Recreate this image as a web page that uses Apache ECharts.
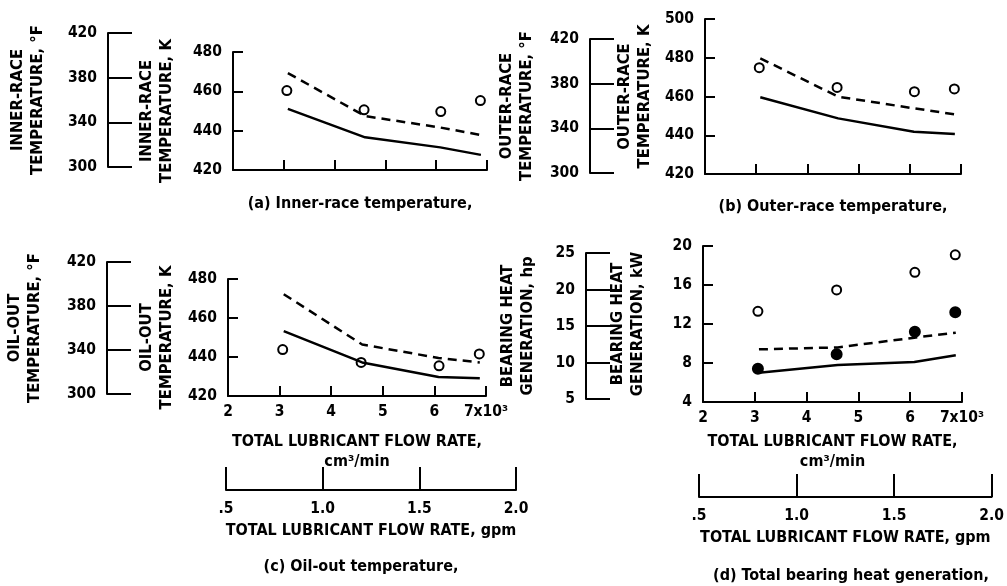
<!DOCTYPE html>
<html>
<head>
<meta charset="utf-8">
<script src="https://cdn.jsdelivr.net/npm/echarts@6/dist/echarts.min.js"></script>
<style>
html, body { margin: 0; padding: 0; background: #fff; }
#chart { width: 1007px; height: 586px; }
</style>
</head>
<body>
<div id="chart"></div>
<script>
// flow rates, x10^3 cm3/min
var lineFlow = [3.08, 4.6, 6.08, 6.88];
var pointFlow = [3.06, 4.58, 6.09, 6.87];

// (a) inner-race temperature, K
var innerDashed = [469.3, 447.4, 441.6, 437.8];
var innerSolid = [451.1, 436.6, 431.5, 427.7];
var innerMeasured = [460.4, 450.6, 449.7, 455.3];

// (b) outer-race temperature, K
var outerDashed = [479.7, 459.9, 453.9, 450.8];
var outerSolid = [459.6, 448.7, 441.8, 440.6];
var outerMeasured = [474.9, 464.7, 462.5, 463.9];

// (c) oil-out temperature, K
var oilDashed = [472.2, 446.4, 439.5, 437.2];
var oilSolid = [453.3, 437.2, 429.7, 429.1];
var oilMeasured = [443.8, 437.2, 435.5, 441.6];

// (d) bearing heat generation, kW
var heatDashed = [9.4, 9.6, 10.6, 11.1];
var heatSolid = [7.0, 7.8, 8.1, 8.8];
var heatOpen = [13.3, 15.5, 17.3, 19.1];
var heatFilled = [7.4, 8.9, 11.2, 13.2];

var flowLabels = {2: '2', 3: '3', 4: '4', 5: '5', 6: '6', 7: '7x10\u00b3'};
var gpmLabels = {0.5: '.5', 1: '1.0', 1.5: '1.5', 2: '2.0'};

var FONT = '"Liberation Sans Narrow", "DejaVu Sans Condensed", sans-serif';

function zip(xs, ys) {
    var out = [];
    for (var i = 0; i < xs.length; i++) out.push([xs[i], ys[i]]);
    return out;
}

function ts(size, extra) {
    var o = { fontFamily: FONT, fontWeight: 'bold', color: '#000', fontSize: size };
    for (var k in extra) o[k] = extra[k];
    return o;
}

var axisLine = { show: true, lineStyle: { color: '#000', width: 2 } };

function yAx(grid, min, max, interval, name, gap, tickLen) {
    return {
        type: 'value', gridIndex: grid, min: min, max: max, interval: interval,
        name: name, nameLocation: 'middle', nameRotate: 90, nameGap: gap,
        nameTextStyle: ts(16.5, { lineHeight: 20 }),
        axisLine: axisLine,
        axisTick: { show: true, inside: true, length: tickLen, lineStyle: { color: '#000', width: 2 } },
        axisLabel: ts(15.5, { margin: 11 }),
        splitLine: { show: false }
    };
}

function flowX(grid, withLabels, name, gap) {
    return {
        type: 'value', gridIndex: grid, min: 2, max: 7, interval: 1,
        name: name, nameLocation: 'middle', nameGap: gap,
        nameTextStyle: ts(16, { lineHeight: 20 }),
        axisLine: axisLine,
        axisTick: { show: true, inside: true, length: 10, lineStyle: { color: '#000', width: 2 } },
        axisLabel: ts(15.5, { show: withLabels, margin: 8, formatter: function(v) { return flowLabels[v]; } }),
        splitLine: { show: false }
    };
}

function gpmX(grid) {
    return {
        type: 'value', gridIndex: grid, min: 0.5, max: 2.0, interval: 0.5,
        name: 'TOTAL LUBRICANT FLOW RATE, gpm', nameLocation: 'middle', nameGap: 33,
        nameTextStyle: ts(16),
        axisLine: axisLine,
        axisTick: { show: true, inside: true, length: 23, lineStyle: { color: '#000', width: 2 } },
        axisLabel: ts(15.5, { margin: 11, formatter: function(v) { return gpmLabels[v]; } }),
        splitLine: { show: false }
    };
}

function hiddenX(grid) {
    return { type: 'value', gridIndex: grid, min: 0, max: 1, show: false };
}
function hiddenY(grid) {
    return { type: 'value', gridIndex: grid, min: 0, max: 1, show: false };
}

function lineSeries(idx, values, dashed) {
    return {
        type: 'line', xAxisIndex: idx, yAxisIndex: idx,
        data: zip(lineFlow, values), symbol: 'none', smooth: false,
        lineStyle: { color: '#000', width: 2.5, type: dashed ? [9, 6] : 'solid' },
        silent: true
    };
}

function pointSeries(idx, values, filled) {
    return {
        type: 'scatter', xAxisIndex: idx, yAxisIndex: idx,
        data: zip(pointFlow, values), symbol: 'circle', symbolSize: filled ? 10 : 9,
        itemStyle: { color: filled ? '#000' : '#fff', borderColor: '#000', borderWidth: 2, opacity: 1 },
        silent: true
    };
}

function caption(text, x, y) {
    return {
        type: 'text',
        style: { text: text, x: x, y: y, align: 'center', verticalAlign: 'middle', font: 'bold 16px ' + FONT, fill: '#000' }
    };
}

var flowName = 'TOTAL LUBRICANT FLOW RATE,\ncm\u00b3/min';

var option = {
    backgroundColor: '#fff',
    animation: false,
    grid: [
        { left: 233, top: 52, width: 254, height: 118 },   // 0 a K
        { left: 108, top: 33, width: 10, height: 134 },    // 1 a F
        { left: 705, top: 19, width: 256, height: 155 },   // 2 b K
        { left: 590, top: 39, width: 10, height: 134 },    // 3 b F
        { left: 228, top: 279, width: 258, height: 117 },  // 4 c K
        { left: 107, top: 262, width: 10, height: 132 },   // 5 c F
        { left: 226, top: 489, width: 290, height: 1 },    // 6 c gpm
        { left: 703, top: 246, width: 259, height: 156 },  // 7 d kW
        { left: 586, top: 253, width: 10, height: 146 },   // 8 d hp
        { left: 699, top: 496, width: 294, height: 1 }     // 9 d gpm
    ],
    xAxis: [
        flowX(0, false, '', 0),
        hiddenX(1),
        flowX(2, false, '', 0),
        hiddenX(3),
        flowX(4, true, flowName, 36),
        hiddenX(5),
        gpmX(6),
        flowX(7, true, flowName, 30),
        hiddenX(8),
        gpmX(9)
    ],
    yAxis: [
        yAx(0, 420, 480, 20, 'INNER-RACE\nTEMPERATURE, K', 56, 10),
        yAx(1, 300, 420, 40, 'INNER-RACE\nTEMPERATURE, \u00b0F', 60, 24),
        yAx(2, 420, 500, 20, 'OUTER-RACE\nTEMPERATURE, K', 50, 10),
        yAx(3, 300, 420, 40, 'OUTER-RACE\nTEMPERATURE, \u00b0F', 53, 24),
        yAx(4, 420, 480, 20, 'OIL-OUT\nTEMPERATURE, K', 51, 10),
        yAx(5, 300, 420, 40, 'OIL-OUT\nTEMPERATURE, \u00b0F', 62, 24),
        hiddenY(6),
        yAx(7, 4, 20, 4, 'BEARING HEAT\nGENERATION, kW', 55, 10),
        yAx(8, 5, 25, 5, 'BEARING HEAT\nGENERATION, hp', 48, 24),
        hiddenY(9)
    ],
    series: [
        lineSeries(0, innerDashed, true),
        lineSeries(0, innerSolid, false),
        pointSeries(0, innerMeasured, false),
        lineSeries(2, outerDashed, true),
        lineSeries(2, outerSolid, false),
        pointSeries(2, outerMeasured, false),
        lineSeries(4, oilDashed, true),
        lineSeries(4, oilSolid, false),
        pointSeries(4, oilMeasured, false),
        lineSeries(7, heatDashed, true),
        lineSeries(7, heatSolid, false),
        pointSeries(7, heatOpen, false),
        pointSeries(7, heatFilled, true)
    ],
    graphic: [
        caption('(a) Inner-race temperature,', 360, 204),
        caption('(b) Outer-race temperature,', 833, 207),
        caption('(c) Oil-out temperature,', 361, 567),
        caption('(d) Total bearing heat generation,', 851, 576)
    ]
};

echarts.init(document.getElementById('chart')).setOption(option);
</script>
</body>
</html>
